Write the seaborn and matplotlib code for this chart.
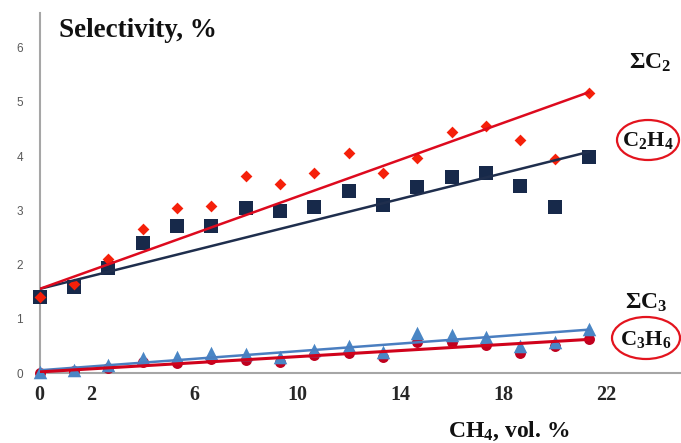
import numpy as np
import pandas as pd
import matplotlib
matplotlib.use("Agg")
import matplotlib.pyplot as plt
import seaborn as sns
from matplotlib.patches import Ellipse

# CH4 concentration, vol. %
ch4 = [0, 1.33, 2.67, 4.0, 5.33, 6.67, 8.0, 9.33, 10.67, 12.0,
       13.33, 14.67, 16.0, 17.33, 18.67, 20.0, 21.33]

# selectivities, %
sum_c2 = [1.41, 1.64, 2.10, 2.66, 3.04, 3.08, 3.63, 3.49, 3.68, 4.05,
          3.68, 3.97, 4.45, 4.56, 4.30, 3.94, 5.16]
c2h4 = [1.40, 1.59, 1.93, 2.39, 2.72, 2.72, 3.05, 2.99, 3.07, 3.36,
        3.09, 3.43, 3.61, 3.68, 3.44, 3.07, 3.99]
sum_c3 = [0.02, 0.05, 0.15, 0.27, 0.29, 0.36, 0.35, 0.29, 0.43, 0.49,
          0.39, 0.73, 0.70, 0.67, 0.49, 0.58, 0.81]
c3h6 = [0.00, 0.03, 0.10, 0.21, 0.18, 0.25, 0.24, 0.21, 0.33, 0.36,
        0.29, 0.58, 0.58, 0.52, 0.37, 0.49, 0.62]

# trend lines as drawn in the original (end points)
trend_x = [0, 21.33]
sum_c2_trend = [1.55, 5.18]
c2h4_trend = [1.55, 4.08]
sum_c3_trend = [0.05, 0.80]
c3h6_trend = [0.02, 0.62]

x_ticks = [0, 2, 6, 10, 14, 18, 22]
y_ticks = [0, 1, 2, 3, 4, 5, 6]

sns.set_style("white")
plt.rcParams["mathtext.default"] = "regular"

W, H = 681, 443
fig = plt.figure(figsize=(W / 100, H / 100), dpi=100)
ax = fig.add_axes([39.5 / W, 1 - 373 / H, (W - 39.5) / W, (373 - 13) / H])

# points
sns.scatterplot(x=ch4, y=c2h4, marker="s", s=95, color="#17294A", linewidth=0,
                ax=ax, zorder=3, clip_on=False)
sns.scatterplot(x=ch4, y=sum_c2, marker="D", s=36, color="#F5200A", linewidth=0,
                ax=ax, zorder=4, clip_on=False)
sns.scatterplot(x=ch4, y=c3h6, marker="o", s=62, color="#C0001E", linewidth=0,
                ax=ax, zorder=3, clip_on=False)
sns.scatterplot(x=ch4, y=sum_c3, marker="^", s=95, color="#4A86C5", linewidth=0,
                ax=ax, zorder=4, clip_on=False)

# trend lines
sns.lineplot(x=trend_x, y=c2h4_trend, color="#1F2E4D", lw=1.8, ax=ax, zorder=5)
sns.lineplot(x=trend_x, y=sum_c2_trend, color="#DD0A1E", lw=1.8, ax=ax, zorder=6)
sns.lineplot(x=trend_x, y=sum_c3_trend, color="#4A7EC0", lw=1.8, ax=ax, zorder=5)
sns.lineplot(x=trend_x, y=c3h6_trend, color="#D0021B", lw=2.2, ax=ax, zorder=6)

ax.set_xlim(0, 24.9)
ax.set_ylim(0, 6.64)
ax.set_xticks(x_ticks)
ax.set_yticks(y_ticks)
ax.set_xticklabels([str(t) for t in x_ticks], family="Liberation Serif",
                   fontweight="bold", fontsize=14.5)
ax.set_yticklabels([str(t) for t in y_ticks], family="Liberation Sans",
                   fontsize=8.5, color="#595959")
ax.tick_params(axis="both", direction="in", length=4, width=1, color="#A6A6A6")
ax.tick_params(axis="x", pad=9)
ax.tick_params(axis="y", pad=12)

sns.despine(ax=ax, top=True, right=True)
for side in ["left", "bottom"]:
    ax.spines[side].set_color("#A6A6A6")
    ax.spines[side].set_linewidth(1.5)

# titles / labels
serif = dict(family="Liberation Serif", fontweight="bold", color="#111111")
fig.text(59 / W, 1 - 37 / H, "Selectivity, %", fontsize=19.5, va="baseline", **serif)
fig.text(448 / W, 1 - 437 / H, "CH$_4$, vol. %", fontsize=17, va="baseline", **serif)

fig.text(650 / W, 1 - 63 / H, "ΣC$_2$", fontsize=17, ha="center", va="center", **serif)
fig.text(648 / W, 1 - 141 / H, "C$_2$H$_4$", fontsize=16, ha="center", va="center", **serif)
fig.text(646 / W, 1 - 303 / H, "ΣC$_3$", fontsize=17, ha="center", va="center", **serif)
fig.text(646 / W, 1 - 340 / H, "C$_3$H$_6$", fontsize=16, ha="center", va="center", **serif)

for cx, cy, ew, eh in [(648, 140, 62, 40), (646, 338, 68, 42)]:
    fig.add_artist(Ellipse((cx / W, 1 - cy / H), ew / W, eh / H, fill=False,
                           edgecolor="#E3141E", lw=1.6, transform=fig.transFigure))

plt.savefig("out.png", dpi=100)
